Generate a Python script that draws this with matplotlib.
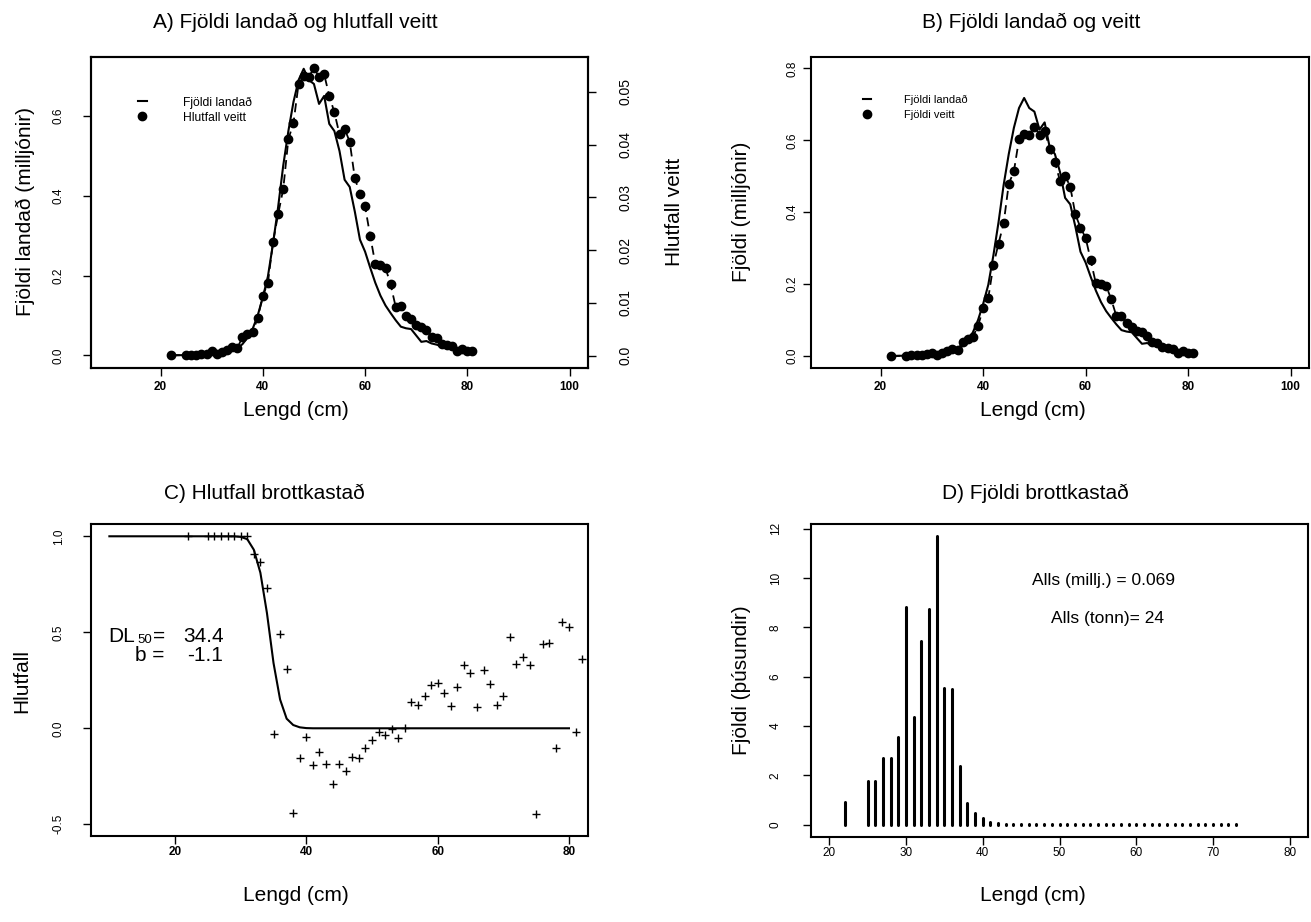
import matplotlib
matplotlib.use("Agg")
import matplotlib.pyplot as plt
from matplotlib.lines import Line2D

plt.rcParams['font.family'] = ['Liberation Sans', 'DejaVu Sans']

# lengths (cm) for panels A and B
lengd = [22] + list(range(25, 82))

# landed numbers (millions)
landad = [0.0, 0.001, 0.001, 0.002, 0.002, 0.003, 0.004, 0.004, 0.006, 0.008,
          0.012, 0.018, 0.028, 0.044, 0.066, 0.100, 0.145, 0.198, 0.280, 0.372,
          0.476, 0.562, 0.635, 0.690, 0.718, 0.690, 0.680, 0.630, 0.650, 0.580,
          0.562, 0.512, 0.440, 0.422, 0.360, 0.290, 0.260, 0.220, 0.182, 0.150,
          0.125, 0.106, 0.088, 0.072, 0.068, 0.066, 0.050, 0.034, 0.036, 0.030,
          0.027, 0.022, 0.018, 0.015, 0.012, 0.010, 0.008, 0.007]

# proportion caught
hlutfall_veitt = [0.0001, 0.0001, 0.0001, 0.0002, 0.0003, 0.0004, 0.0008, 0.0004,
                  0.0007, 0.0010, 0.0017, 0.0014, 0.0035, 0.0042, 0.0045, 0.0071,
                  0.0114, 0.0138, 0.0216, 0.0268, 0.0316, 0.0410, 0.0441, 0.0515,
                  0.0529, 0.0528, 0.0545, 0.0528, 0.0533, 0.0492, 0.0461, 0.0419,
                  0.0430, 0.0405, 0.0336, 0.0307, 0.0283, 0.0227, 0.0174, 0.0171,
                  0.0166, 0.0135, 0.0092, 0.0095, 0.0076, 0.0069, 0.0059, 0.0055,
                  0.0049, 0.0036, 0.0034, 0.0023, 0.0021, 0.0018, 0.0009, 0.0013,
                  0.0008, 0.0008]

# numbers caught (millions)
fjoldi_veitt = [0.0, 0.001, 0.002, 0.002, 0.003, 0.005, 0.009, 0.004, 0.009, 0.014,
                0.020, 0.017, 0.039, 0.048, 0.054, 0.083, 0.133, 0.161, 0.253, 0.313,
                0.369, 0.479, 0.514, 0.603, 0.619, 0.616, 0.638, 0.616, 0.626, 0.577,
                0.540, 0.487, 0.502, 0.471, 0.394, 0.357, 0.329, 0.266, 0.202, 0.201,
                0.195, 0.158, 0.111, 0.111, 0.091, 0.082, 0.070, 0.067, 0.056, 0.040,
                0.037, 0.025, 0.023, 0.019, 0.007, 0.014, 0.007, 0.007]

# panel C: observed proportion discarded and fitted curve
lengd_c = [22] + list(range(25, 83))
hlutfall_brott = [1.0, 1.0, 1.0, 1.0, 1.0, 1.0, 1.0, 1.0, 0.91, 0.865, 0.733,
                  -0.028, 0.492, 0.31, -0.44, -0.156, -0.043, -0.189, -0.121,
                  -0.184, -0.291, -0.184, -0.225, -0.151, -0.156, -0.104, -0.059,
                  -0.021, -0.036, -0.003, -0.052, 0.0, 0.139, 0.123, 0.17, 0.224,
                  0.234, 0.185, 0.118, 0.217, 0.328, 0.286, 0.113, 0.305, 0.229,
                  0.123, 0.17, 0.473, 0.333, 0.369, 0.328, -0.445, 0.437, 0.445,
                  -0.104, 0.551, 0.53, -0.021, 0.362]
ferill_x = [10, 29, 30, 31, 32, 33, 34, 35, 36, 37, 38, 39, 40, 41, 80]
ferill_y = [1.0, 1.0, 0.997, 0.985, 0.93, 0.81, 0.60, 0.34, 0.15, 0.05, 0.017,
            0.005, 0.001, 0.0, 0.0]
dl50 = "34.4"
b_val = "-1.1"

# panel D: discarded numbers (thousands)
lengd_d = [22] + list(range(25, 74))
brottkast = [0.92, 1.78, 1.78, 2.69, 2.69, 3.56, 8.81, 4.36, 7.46, 8.75, 11.72,
             5.55, 5.52, 2.36, 0.90, 0.49, 0.27, 0.13, 0.08,
             0.03, 0.03, 0.03, 0.03, 0.03, 0.03, 0.03, 0.03, 0.03, 0.03, 0.03,
             0.03, 0.03, 0.03, 0.03, 0.03, 0.03, 0.03, 0.03, 0.03, 0.03, 0.03,
             0.03, 0.03, 0.03, 0.03, 0.03, 0.03, 0.03, 0.03, 0.03]
alls_millj = "0.069"
alls_tonn = "24"

W, H = 1311, 922
FS = 15
fig = plt.figure(figsize=(W / 100, H / 100), dpi=100)


def box(l, t, r, b):
    return [l / W, 1 - b / H, (r - l) / W, (b - t) / H]


def style(ax, ypad, xpad=3, bold_x=True, ysize=8.5):
    for s in ax.spines.values():
        s.set_linewidth(1.5)
    ax.tick_params(direction='out', length=6, width=1, labelsize=8.5)
    ax.tick_params(axis='y', pad=ypad, labelsize=ysize)
    ax.tick_params(axis='x', pad=xpad)
    for lab in ax.get_yticklabels():
        lab.set_rotation(90)
        lab.set_va('center')
    if bold_x:
        for lab in ax.get_xticklabels():
            lab.set_fontweight('bold')


def ftext(x, y, s, **kw):
    fig.text(x / W, 1 - y / H, s, ha='center', va='center', **kw)


# ---- A ----
axA = fig.add_axes(box(91, 57, 588, 368))
axA.plot(lengd, landad, color='k', lw=1.5)
axA.set_xlim(6.4, 103.6)
axA.set_ylim(-0.0315, 0.7475)
axA.set_xticks([20, 40, 60, 80, 100])
axA.set_yticks([0.0, 0.2, 0.4, 0.6])
axA.set_yticklabels(['0.0', '0.2', '0.4', '0.6'])
style(axA, 13)
axA2 = axA.twinx()
axA2.plot(lengd, hlutfall_veitt, color='k', lw=1.3, ls=(0, (5, 3)),
          marker='o', ms=6, mfc='k', mec='k')
axA2.set_ylim(-0.00233, 0.05658)
axA2.set_yticks([0, 0.01, 0.02, 0.03, 0.04, 0.05])
axA2.set_yticklabels(['0.0', '0.01', '0.02', '0.03', '0.04', '0.05'])
style(axA2, 16, ysize=10)
hA = [Line2D([], [], color='k', lw=1.5),
      Line2D([], [], color='k', ls='none', marker='o', ms=6)]
axA2.legend(hA, ['Fjöldi landað', 'Hlutfall veitt'], loc='upper left',
            bbox_to_anchor=(0.095, 0.873), frameon=False, fontsize=8.7,
            handlelength=0.7, handletextpad=3.0, labelspacing=0.25,
            borderpad=0, borderaxespad=0)
ftext(295, 22, 'A) Fjöldi landað og hlutfall veitt', fontsize=FS)
ftext(296, 410, 'Lengd (cm)', fontsize=FS)
ftext(25, 212, 'Fjöldi landað (milljónir)', fontsize=FS, rotation=90)
ftext(675, 212, 'Hlutfall veitt', fontsize=FS, rotation=90)

# ---- B ----
axB = fig.add_axes(box(811, 57, 1309, 368))
axB.plot(lengd, landad, color='k', lw=1.5)
axB.plot(lengd, fjoldi_veitt, color='k', lw=1.3, ls=(0, (5, 3)),
         marker='o', ms=6, mfc='k', mec='k')
axB.set_xlim(6.4, 103.6)
axB.set_ylim(-0.0334, 0.832)
axB.set_xticks([20, 40, 60, 80, 100])
axB.set_yticks([0.0, 0.2, 0.4, 0.6, 0.8])
axB.set_yticklabels(['0.0', '0.2', '0.4', '0.6', '0.8'])
style(axB, 3)
hB = [Line2D([], [], color='k', lw=1.5),
      Line2D([], [], color='k', ls='none', marker='o', ms=6)]
axB.legend(hB, ['Fjöldi landað', 'Fjöldi veitt'], loc='upper left',
           bbox_to_anchor=(0.105, 0.878), frameon=False, fontsize=8,
           handlelength=0.7, handletextpad=3.0, labelspacing=0.4,
           borderpad=0, borderaxespad=0)
ftext(1031, 22, 'B) Fjöldi landað og veitt', fontsize=FS)
ftext(1033, 410, 'Lengd (cm)', fontsize=FS)
ftext(742, 212, 'Fjöldi (milljónir)', fontsize=FS, rotation=90)

# ---- C ----
axC = fig.add_axes(box(91, 524, 588, 836))
axC.plot(ferill_x, ferill_y, color='k', lw=1.5)
axC.plot(lengd_c, hlutfall_brott, ls='none', marker='+', ms=6, mew=1, color='k')
axC.set_xlim(7.2, 82.9)
axC.set_ylim(-0.561, 1.064)
axC.set_xticks([20, 40, 60, 80])
axC.set_yticks([-0.5, 0.0, 0.5, 1.0])
axC.set_yticklabels(['-0.5', '0.0', '0.5', '1.0'])
style(axC, 13, xpad=1)
axC.text(9.8, 0.478, 'DL', fontsize=FS, va='center', ha='left')
axC.text(14.3, 0.46, '50', fontsize=9.5, va='center', ha='left')
axC.text(16.7, 0.478, '=', fontsize=FS, va='center', ha='left')
axC.text(21.2, 0.478, dl50, fontsize=FS, va='center', ha='left')
axC.text(18.3, 0.38, 'b =', fontsize=FS, va='center', ha='right')
axC.text(21.8, 0.38, b_val, fontsize=FS, va='center', ha='left')
ftext(264, 493, 'C) Hlutfall brottkastað', fontsize=FS)
ftext(296, 895, 'Lengd (cm)', fontsize=FS)
ftext(22, 681, 'Hlutfall', fontsize=FS, rotation=90)

# ---- D ----
axD = fig.add_axes(box(811, 524, 1308, 837))
axD.vlines(lengd_d, 0, brottkast, color='k', lw=2.2, capstyle='round')
axD.set_xlim(17.6, 82.4)
axD.set_ylim(-0.498, 12.19)
axD.set_xticks([20, 30, 40, 50, 60, 70, 80])
axD.set_yticks([0, 2, 4, 6, 8, 10, 12])
style(axD, 15, xpad=1, bold_x=False)
axD.text(55.8, 9.9, 'Alls (millj.) = ' + alls_millj, fontsize=12.5, ha='center', va='center')
axD.text(56.2, 8.37, 'Alls (tonn)= ' + alls_tonn, fontsize=12.5, ha='center', va='center')
ftext(1035, 493, 'D) Fjöldi brottkastað', fontsize=FS)
ftext(1033, 895, 'Lengd (cm)', fontsize=FS)
ftext(742, 680, 'Fjöldi (þúsundir)', fontsize=FS, rotation=90)

fig.savefig('out.png', dpi=100)
